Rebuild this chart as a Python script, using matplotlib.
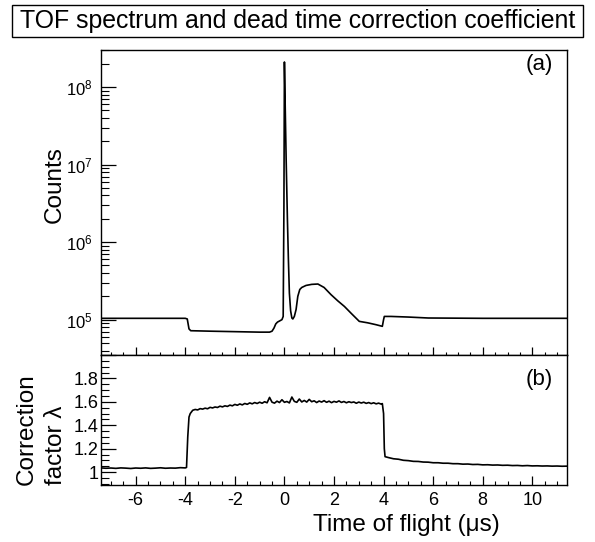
import numpy as np
import matplotlib
matplotlib.use("Agg")
import matplotlib.pyplot as plt
from matplotlib.patches import Rectangle
from matplotlib.ticker import MultipleLocator, LogLocator, FuncFormatter, NullFormatter

plt.rcParams['font.family'] = ['Liberation Sans', 'DejaVu Sans']
plt.rcParams['mathtext.fontset'] = 'custom'
plt.rcParams['mathtext.rm'] = 'Liberation Sans'
plt.rcParams['mathtext.it'] = 'Liberation Sans'
plt.rcParams['axes.unicode_minus'] = False

# (a) TOF spectrum
t_a = [-7.4, -4.0, -3.92, -3.85, -3.78, -3.0, -2.0, -1.0, -0.6, -0.5, -0.42,
       -0.35, -0.28, -0.2, -0.1, -0.05, -0.02, 0.0, 0.03, 0.07, 0.12, 0.16,
       0.2, 0.25, 0.3, 0.34, 0.4, 0.47, 0.54, 0.62, 0.7, 0.87, 1.1, 1.35,
       1.6, 1.88, 2.15, 2.42, 2.7, 3.02, 3.36, 3.7, 3.95, 4.0, 4.03, 4.3,
       5.0, 5.8, 8.0, 11.4]
counts_a = [1.04e5, 1.04e5, 1.02e5, 7.6e4, 7.2e4, 7.1e4, 7.0e4, 6.9e4, 6.9e4,
            7.1e4, 7.8e4, 8.8e4, 9.3e4, 9.6e4, 1.0e5, 1.1e5, 3e6, 2.1e8, 6e7,
            1.15e7, 2e6, 6e5, 2.2e5, 1.3e5, 1.05e5, 1.02e5, 1.1e5, 1.35e5,
            2.0e5, 2.45e5, 2.6e5, 2.76e5, 2.85e5, 2.88e5, 2.6e5, 2.1e5, 1.75e5,
            1.48e5, 1.2e5, 9.5e4, 9.1e4, 8.6e4, 8.2e4, 1.0e5, 1.1e5, 1.1e5,
            1.08e5, 1.05e5, 1.04e5, 1.04e5]

# (b) correction factor, sampled in bins
pre_start, pre_step = -7.4, 0.2
lam_pre = [1.036, 1.033, 1.035, 1.032, 1.036, 1.034, 1.031, 1.035, 1.033,
           1.036, 1.032, 1.034, 1.037, 1.033, 1.035, 1.034, 1.038, 1.036]
t_rise = [-3.95, -3.9, -3.85]
lam_rise = [1.04, 1.30, 1.47]
plat_start, plat_step = -3.8, 0.1
lam_plat = [1.500, 1.528, 1.535, 1.531, 1.542, 1.538, 1.546, 1.541, 1.553,
            1.548, 1.556, 1.552, 1.563, 1.557, 1.566, 1.561, 1.572, 1.566,
            1.578, 1.571, 1.582, 1.574, 1.586, 1.579, 1.591, 1.583, 1.594,
            1.586, 1.597, 1.588, 1.601, 1.592, 1.638, 1.597, 1.589, 1.606,
            1.594, 1.618, 1.596, 1.603, 1.591, 1.641, 1.604, 1.596, 1.624,
            1.599, 1.612, 1.598, 1.621, 1.601, 1.609, 1.594, 1.607, 1.598,
            1.610, 1.596, 1.606, 1.593, 1.604, 1.597, 1.608, 1.595, 1.603,
            1.592, 1.601, 1.594, 1.599, 1.588, 1.598, 1.590, 1.597, 1.587,
            1.594, 1.585, 1.592, 1.583, 1.589, 1.581]
t_fall = [3.95, 4.0, 4.03, 4.06]
lam_fall = [1.585, 1.50, 1.20, 1.132]
post_start, post_step = 4.2, 0.2
lam_post = [1.124, 1.114, 1.110, 1.101, 1.098, 1.092, 1.091, 1.086, 1.085,
            1.080, 1.080, 1.076, 1.076, 1.072, 1.072, 1.068, 1.069, 1.065,
            1.066, 1.062, 1.063, 1.060, 1.061, 1.058, 1.059, 1.056, 1.057,
            1.054, 1.056, 1.053, 1.054, 1.052, 1.053, 1.051, 1.052, 1.050,
            1.051]

t_b = np.concatenate([pre_start + pre_step * np.arange(len(lam_pre)), t_rise,
                      plat_start + plat_step * np.arange(len(lam_plat)), t_fall,
                      post_start + post_step * np.arange(len(lam_post))])
lam_b = np.concatenate([lam_pre, lam_rise, lam_plat, lam_fall, lam_post])

W, H = 595, 542
fig = plt.figure(figsize=(W / 100, H / 100), dpi=100)
axa = fig.add_axes([101 / W, 1 - 355 / H, 466 / W, 305 / H])
axb = fig.add_axes([101 / W, 1 - 485 / H, 466 / W, 130 / H], sharex=axa)

axa.plot(t_a, counts_a, color='black', lw=1.2)
axa.set_yscale('log')
axa.set_ylim(3.5e4, 3e8)
axa.set_xlim(-7.4, 11.4)
axa.yaxis.set_major_locator(LogLocator(base=10, numticks=10))
axa.yaxis.set_minor_locator(LogLocator(base=10, subs=np.arange(2, 10), numticks=20))
axa.yaxis.set_minor_formatter(NullFormatter())
axa.tick_params(axis='y', which='major', direction='in', length=11, width=0.9,
                labelsize=12, pad=6, right=False)
axa.tick_params(axis='y', which='minor', direction='in', length=5.5, width=0.8, right=False)
axa.tick_params(axis='x', which='major', direction='in', length=5.5, width=0.9,
                labelbottom=False, top=False)
axa.tick_params(axis='x', which='minor', direction='in', length=2.5, width=0.8, top=False)
axa.text(0.94, 0.951, '(a)', transform=axa.transAxes, ha='center', va='center', fontsize=16)

axb.plot(t_b, lam_b, color='black', lw=1.2)
axb.set_ylim(0.89, 2.0)
axb.yaxis.set_major_locator(MultipleLocator(0.2))
axb.yaxis.set_minor_locator(MultipleLocator(0.05))
axb.yaxis.set_major_formatter(FuncFormatter(lambda v, p: '%g' % round(v, 2) if v < 1.9 else ''))
axb.xaxis.set_major_locator(MultipleLocator(2))
axb.xaxis.set_minor_locator(MultipleLocator(0.5))
axb.tick_params(axis='y', which='major', direction='in', length=11, width=0.9,
                labelsize=13, pad=2, right=False)
axb.tick_params(axis='y', which='minor', direction='in', length=5.5, width=0.8, right=False)
axb.tick_params(axis='x', which='major', direction='in', length=6.5, width=0.9,
                labelsize=13, pad=5, top=False)
axb.tick_params(axis='x', which='minor', direction='in', length=3, width=0.8, top=False)
axb.text(0.94, 0.808, '(b)', transform=axb.transAxes, ha='center', va='center', fontsize=16)

for ax in (axa, axb):
    for s in ax.spines.values():
        s.set_linewidth(1.0)

# axis labels
fig.text(55 / W, 1 - 185 / H, 'Counts', rotation=90, ha='center', va='center', fontsize=17.5)
fig.text(27 / W, 1 - 485 / H, 'Correction', rotation=90, ha='center', va='bottom', fontsize=17.5)
fig.text(56 / W, 1 - 485 / H, 'factor λ', rotation=90, ha='center', va='bottom', fontsize=17.5)
fig.text(500 / W, 1 - 525 / H, 'Time of flight (μs)', ha='right', va='center', fontsize=17.5)

# title box
fig.patches.append(Rectangle((12 / W, 1 - 37 / H), 571 / W, 32 / H, transform=fig.transFigure,
                             facecolor='white', edgecolor='black', lw=1.0))
fig.text(297.5 / W, 1 - 21 / H, 'TOF spectrum and dead time correction coefficient',
         ha='center', va='center', fontsize=17.9)

fig.savefig('out.png', dpi=100)
